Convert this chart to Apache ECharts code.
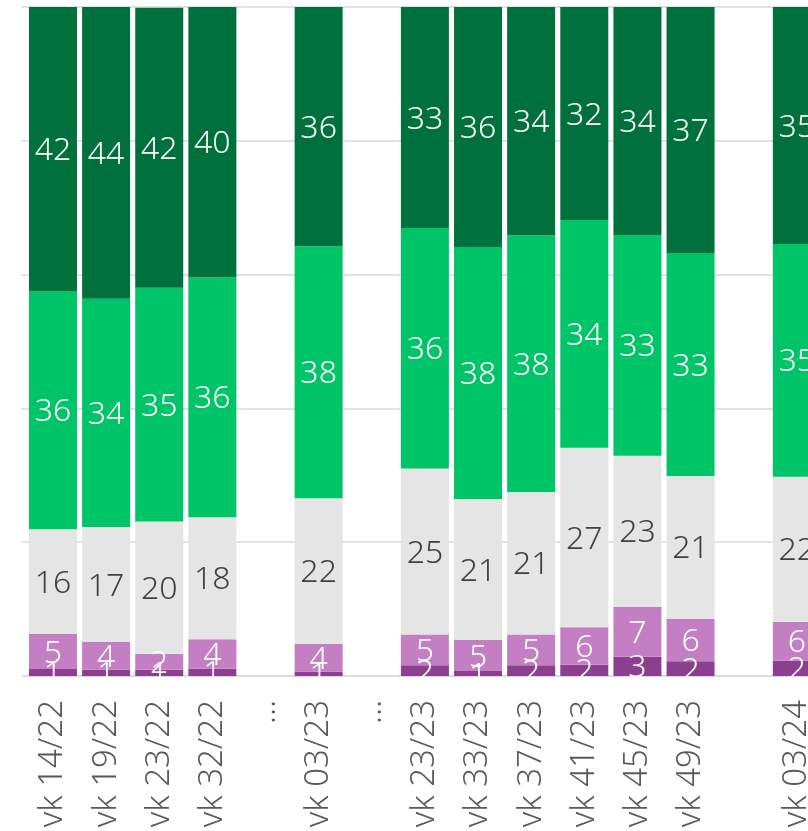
<!DOCTYPE html>
<html>
<head>
<meta charset="utf-8">
<script src="https://cdn.jsdelivr.net/npm/echarts@6/dist/echarts.min.js"></script>
<style>
    html, body { margin: 0; padding: 0; background: #fff; }
    #chart { width: 808px; height: 831px; }
</style>
</head>
<body>
<div id="chart"></div>
<script>
// kategoriat (tyhjät välit = "…")
const categories = ['vk 14/22', 'vk 19/22', 'vk 23/22', 'vk 32/22', '…', 'vk 03/23', '…',
    'vk 23/23', 'vk 33/23', 'vk 37/23', 'vk 41/23', 'vk 45/23', 'vk 49/23', '', 'vk 03/24']

// osuudet %, alhaalta ylös
const darkPurple = [1.05, 0.94, 0.94, 1.09, null, 0.64, null, 1.6, 0.75, 1.6, 1.69, 2.88, 2.2, null, 2.29]
const lightPurple = [5.23, 4.14, 2.4, 4.4, null, 4.14, null, 4.59, 4.63, 4.6, 5.59, 7.43, 6.37, null, 5.83]
const grey = [15.65, 17.19, 19.77, 18.23, null, 21.78, null, 24.81, 21.08, 21.3, 26.85, 22.62, 21.33, null, 21.67]
const green = [35.62, 34.13, 34.94, 35.88, null, 37.67, null, 35.98, 37.67, 38.4, 34.03, 32.99, 33.33, null, 34.78]
const darkGreen = [42.45, 43.6, 41.85, 40.4, null, 35.77, null, 33.08, 35.87, 34.1, 31.84, 34.08, 36.77, null, 35.43]

const font = "'Noto Sans', 'Open Sans', sans-serif"

function makeSeries(name, data, color, labelColor) {
    return {
        name,
        type: 'bar',
        stack: 'total',
        data,
        barWidth: 48,
        itemStyle: { color },
        label: {
            show: true,
            position: 'inside',
            offset: [0, 2],
            color: labelColor,
            fontFamily: font,
            fontWeight: 300,
            fontSize: 32,
            formatter: p => Math.round(p.value)
        }
    }
}

const chart = echarts.init(document.getElementById('chart'))
chart.setOption({
    animation: false,
    // kaavio jatkuu oikean reunan yli
    grid: { left: 26.4, width: 797, top: 7, height: 669, containLabel: false, outerBoundsMode: 'none' },
    xAxis: {
        type: 'category',
        data: categories,
        axisTick: { show: false },
        axisLine: { show: true, lineStyle: { color: '#D9D9D9', width: 1.5 } },
        axisLabel: {
            interval: 0,
            rotate: 90,
            margin: 24,
            color: '#595959',
            fontFamily: font,
            fontWeight: 300,
            fontSize: 33
        }
    },
    yAxis: {
        type: 'value',
        min: 0,
        max: 100,
        interval: 20,
        axisLabel: { show: false },
        axisLine: { show: false },
        axisTick: { show: true, length: 5, lineStyle: { color: '#D9D9D9', width: 1.5 } },
        splitLine: { lineStyle: { color: '#D9D9D9', width: 1.5 } }
    },
    series: [
        makeSeries('a', darkPurple, '#8B3F8E', '#fff'),
        makeSeries('b', lightPurple, '#C47FC4', '#fff'),
        makeSeries('c', grey, '#E5E5E5', '#404040'),
        makeSeries('d', green, '#00C468', '#fff'),
        makeSeries('e', darkGreen, '#00703C', '#fff')
    ],
    // leikkaa pylväiden alle valuvat luvut
    graphic: [{
        type: 'rect',
        z: 100,
        shape: { x: 0, y: 677, width: 808, height: 20 },
        style: { fill: '#fff' }
    }]
})
</script>
</body>
</html>
